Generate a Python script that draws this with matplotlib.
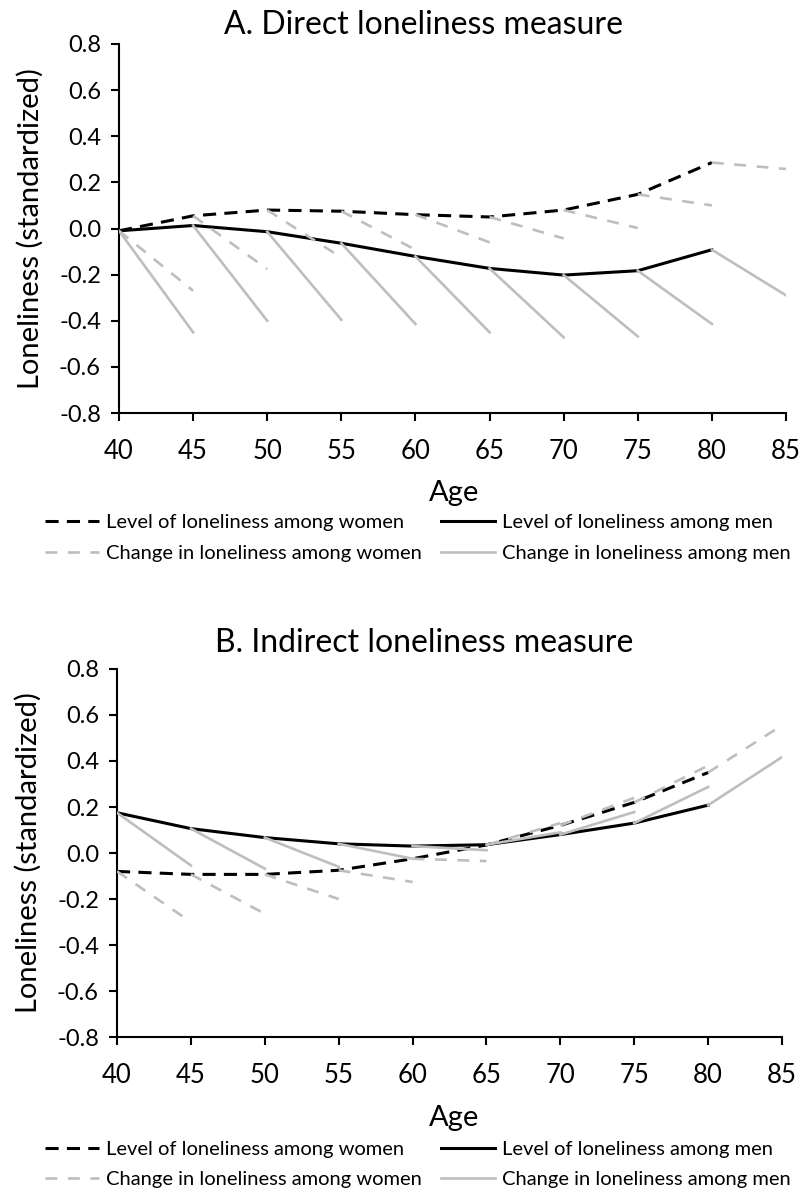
import matplotlib
matplotlib.use("Agg")
import matplotlib.pyplot as plt
from matplotlib.lines import Line2D

# 数据：每隔5岁的水平值，以及变化线段5年后的终点值
ages = [40, 45, 50, 55, 60, 65, 70, 75, 80]

# A. Direct loneliness measure
a_women_level = [-0.01, 0.055, 0.08, 0.075, 0.06, 0.05, 0.08, 0.148, 0.286]
a_men_level = [-0.01, 0.013, -0.014, -0.064, -0.121, -0.173, -0.202, -0.183, -0.092]
a_women_change_end = [-0.27, -0.176, -0.126, -0.092, -0.06, -0.043, 0.002, 0.10, 0.258]
a_men_change_end = [-0.45, -0.40, -0.396, -0.414, -0.45, -0.472, -0.468, -0.414, -0.29]

# B. Indirect loneliness measure
b_women_level = [-0.08, -0.093, -0.093, -0.075, -0.025, 0.035, 0.12, 0.22, 0.35]
b_men_level = [0.175, 0.106, 0.067, 0.04, 0.03, 0.036, 0.08, 0.13, 0.208]
b_women_change_end = [-0.30, -0.264, -0.20, -0.126, -0.035, 0.13, 0.24, 0.38, 0.555]
b_men_change_end = [-0.054, -0.068, -0.06, -0.025, 0.012, 0.09, 0.178, 0.287, 0.417]

titles = ["A. Direct loneliness measure", "B. Indirect loneliness measure"]
labels = ["Level of loneliness among women", "Change in loneliness among women",
          "Level of loneliness among men", "Change in loneliness among men"]
yticks = [-0.8, -0.6, -0.4, -0.2, 0.0, 0.2, 0.4, 0.6, 0.8]
xticks = [40, 45, 50, 55, 60, 65, 70, 75, 80, 85]

plt.rcParams["font.family"] = ["Lato", "DejaVu Sans"]

GRAY = "#BEBEBE"
black_dash = (0, (4.3, 2.7))
gray_dash = (0, (4.5, 4.0))

fig = plt.figure(figsize=(8, 11.92), dpi=100)

panels = [
    dict(rect=[0.14875, 0.65352, 0.83375, 0.30957], title_y=0.979, age_y=0.5864, leg_y=0.5685,
         data=(a_women_level, a_men_level, a_women_change_end, a_men_change_end)),
    dict(rect=[0.14625, 0.13003, 0.83125, 0.30873], title_y=0.4606, age_y=0.0621, leg_y=0.0432,
         data=(b_women_level, b_men_level, b_women_change_end, b_men_change_end)),
]

for p, title in zip(panels, titles):
    ax = fig.add_axes(p["rect"])
    w_lvl, m_lvl, w_chg, m_chg = p["data"]

    # 水平线
    ax.plot(ages, w_lvl, color="black", lw=2.2, linestyle=black_dash, zorder=3)
    ax.plot(ages, m_lvl, color="black", lw=2.2, zorder=3)
    # 变化线段
    for a, s, e in zip(ages, w_lvl, w_chg):
        ax.plot([a, a + 5], [s, e], color=GRAY, lw=1.9, linestyle=gray_dash, zorder=4)
    for a, s, e in zip(ages, m_lvl, m_chg):
        ax.plot([a, a + 5], [s, e], color=GRAY, lw=1.9, zorder=4)

    ax.set_xlim(40, 85)
    ax.set_ylim(-0.8, 0.8)
    ax.set_xticks(xticks)
    ax.set_yticks(yticks)
    ax.set_yticklabels([f"{v:.1f}" for v in yticks])
    ax.spines["top"].set_visible(False)
    ax.spines["right"].set_visible(False)
    ax.spines["left"].set_linewidth(1.5)
    ax.spines["bottom"].set_linewidth(1.5)
    ax.tick_params(axis="both", direction="out", length=6, width=1.5, colors="black")
    ax.tick_params(axis="y", labelsize=17, pad=7)
    ax.tick_params(axis="x", labelsize=18.5, pad=13)
    ax.set_ylabel("Loneliness (standardized)", fontsize=21)
    ax.yaxis.set_label_coords(-0.113, 0.5)

    fig.text(0.53, p["title_y"], title, fontsize=23, ha="center", va="center")
    fig.text(0.567, p["age_y"], "Age", fontsize=21, ha="center", va="center")

    handles = [
        Line2D([], [], color="black", lw=2.2, linestyle=black_dash),
        Line2D([], [], color=GRAY, lw=1.9, linestyle=gray_dash),
        Line2D([], [], color="black", lw=2.2),
        Line2D([], [], color=GRAY, lw=1.9),
    ]
    for col, x0 in enumerate([45 / 800, 441 / 800]):
        fig.legend(handles[2 * col:2 * col + 2], labels[2 * col:2 * col + 2],
                   loc="upper left", bbox_to_anchor=(x0, p["leg_y"]),
                   frameon=False, fontsize=14.5, handlelength=2.7,
                   handletextpad=0.35, borderpad=0, borderaxespad=0,
                   labelspacing=0.68)

plt.savefig("out.png", dpi=100)
